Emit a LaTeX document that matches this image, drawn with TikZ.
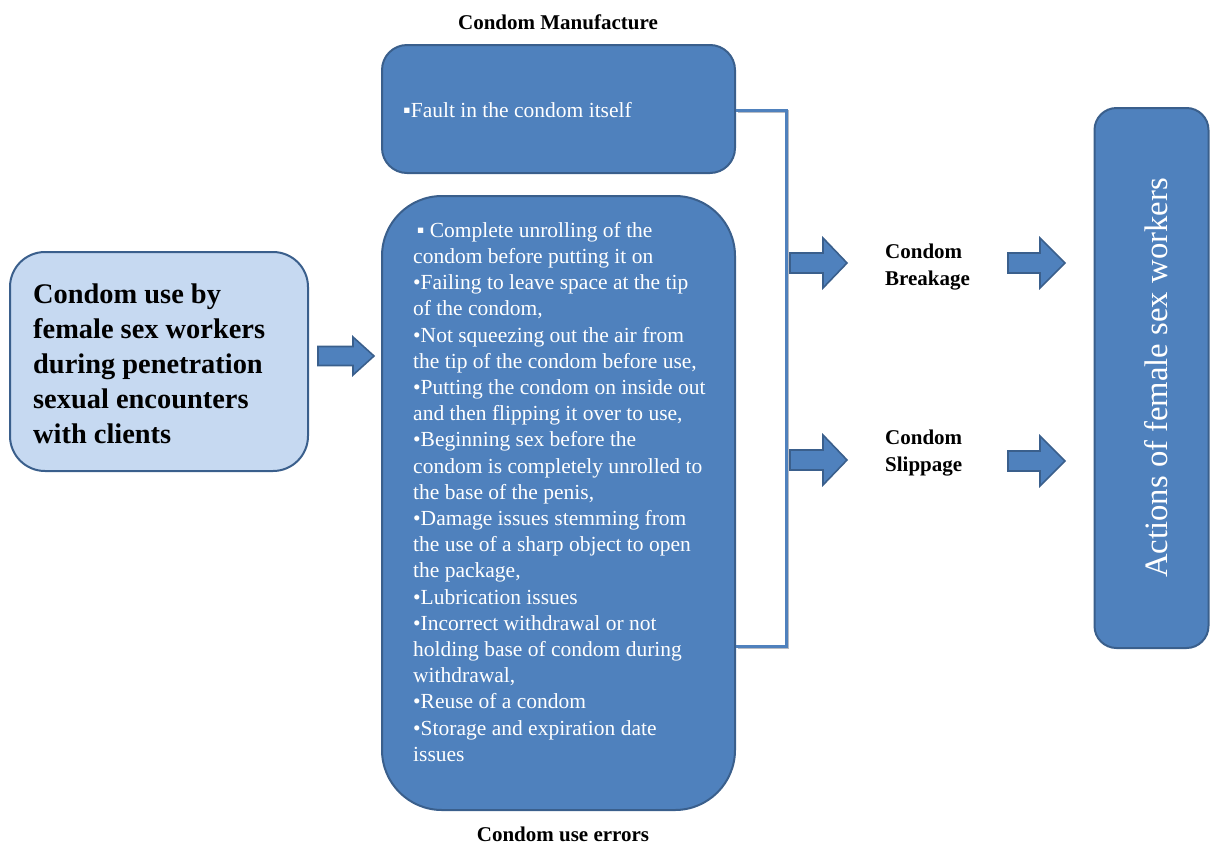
\documentclass[tikz,border=0pt]{standalone}
\usepackage{fontspec}
\setmainfont{Liberation Serif}
\definecolor{boxblue}{HTML}{4F81BD}
\definecolor{edgeblue}{HTML}{3A5F8C}
\definecolor{lightblue}{HTML}{C6D9F1}
\definecolor{shadowgray}{HTML}{B8BCC4}
\newcommand{\blockarrow}[6]{%
  % #1 x0, #2 x1, #3 head start, #4 centre y, #5 shaft half, #6 head half
  \draw[arrowshape] (#1,#4-#5) -- (#3,#4-#5) -- (#3,#4-#6) -- (#2,#4)
    -- (#3,#4+#6) -- (#3,#4+#5) -- (#1,#4+#5) -- cycle;}
\begin{document}
\begin{tikzpicture}[x=1pt,y=-1pt,
  bluebox/.style={draw=edgeblue, line width=2pt, fill=boxblue, inner sep=0pt},
  lightbox/.style={draw=edgeblue, line width=2pt, fill=lightblue, inner sep=0pt},
  arrowshape/.style={draw=edgeblue, line width=1.6pt, fill=boxblue, line join=miter},
  whitetext/.style={text=white, inner sep=0pt, align=left, font=\fontsize{21.5}{26.2}\selectfont},
  headtext/.style={inner sep=0pt, font=\bfseries\fontsize{21}{26.4}\selectfont, align=left},
  bracket/.style={draw=boxblue, line width=3pt}]
\useasboundingbox (0,0) rectangle (1210,844);

% titles
\node[headtext, anchor=base] (mtitle) at (558,29) {Condom Manufacture};
\node[headtext, anchor=base] (etitle) at (563,841) {Condom use errors};

% boxes
\node[bluebox, rounded corners=25pt, minimum width=353pt, minimum height=128pt] (manuf) at (558.5,109) {};
\node[bluebox, rounded corners=60pt, minimum width=353pt, minimum height=614pt] (errors) at (558.5,503) {};
\node[lightbox, rounded corners=35pt, minimum width=298pt, minimum height=219pt] (use) at (159,361.5) {};
\node[bluebox, rounded corners=22pt, minimum width=114pt, minimum height=540pt] (actions) at (1151.5,378) {};

% box texts
\node[whitetext, anchor=north west] (manuftext) at (403,102) {▪Fault in the condom itself};
\node[whitetext, anchor=north west] (errtext) at (413,222) {%
\,▪ Complete unrolling of the\\
condom before putting it on\\
•Failing to leave space at the tip\\
of the condom,\\
•Not squeezing out the air from\\
the tip of the condom before use,\\
•Putting the condom on inside out\\
and then flipping it over to use,\\
•Beginning sex before the\\
condom is completely unrolled to\\
the base of the penis,\\
•Damage issues stemming from\\
the use of a sharp object to open\\
the package,\\
•Lubrication issues\\
•Incorrect withdrawal or not\\
holding base of condom during\\
withdrawal,\\
•Reuse of a condom\\
•Storage and expiration date\\
issues};
\node[anchor=north west, inner sep=0pt, align=left,
  font=\bfseries\fontsize{28.4}{35}\selectfont] (usetext) at (33,284) {%
Condom use by\\
female sex workers\\
during penetration\\
sexual encounters\\
with clients};
\node[text=white, inner sep=0pt, rotate=90, font=\fontsize{32.7}{36}\selectfont] (actext) at (1156,378) {Actions of female sex workers};

% outcome labels
\node[headtext, anchor=north west] (breakage) at (885,244) {Condom\\Breakage};
\node[headtext, anchor=north west] (slippage) at (885,430) {Condom\\Slippage};

% bracket joining the two causes
\coordinate (btop) at (786,110);
\coordinate (bbot) at (786,646);
\draw[shadowgray, line width=3pt] ([xshift=1.5pt,yshift=-1.5pt]manuf.east |- btop) -- ([xshift=1.5pt,yshift=-1.5pt]btop) -- ([xshift=1.5pt,yshift=-1.5pt]bbot) -- ([xshift=1.5pt,yshift=-1.5pt]errors.east |- bbot);
\draw[bracket] (manuf.east |- btop) -- (btop) -- (bbot) -- (errors.east |- bbot);

% block arrows
\blockarrow{318}{374}{353}{356}{9.5}{19}
\blockarrow{790}{847}{823}{263}{10}{25}
\blockarrow{790}{847}{823}{460}{10}{25}
\blockarrow{1008}{1065}{1040}{263}{10}{25}
\blockarrow{1008}{1065}{1040}{461}{10}{25}
\end{tikzpicture}
\end{document}
